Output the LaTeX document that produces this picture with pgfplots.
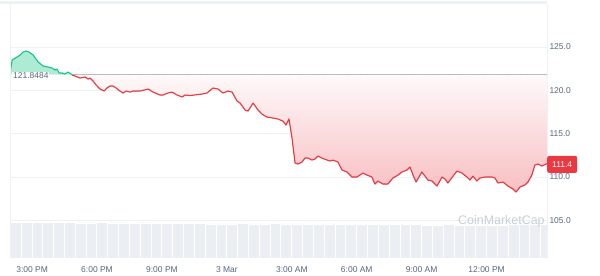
\documentclass[border=0pt]{standalone}
\usepackage{pgfplots}
\pgfplotsset{compat=1.18}
\usepackage{pgfplotstable}
\usepgfplotslibrary{fillbetween}
\usepackage{fontspec}
\setmainfont{Liberation Sans}

\definecolor{cmcred}{RGB}{234,57,67}
\definecolor{cmcgreen}{RGB}{22,199,132}
\definecolor{txtgray}{RGB}{88,102,126}
\definecolor{gridc}{RGB}{239,242,245}
\definecolor{volc}{RGB}{235,238,242}
\definecolor{wmark}{RGB}{200,206,214}
\definecolor{dotc}{RGB}{150,158,172}

\pgfplotstableread{
h p
-1.02 122.00
-0.92 123.50
-0.69 123.85
-0.55 124.08
-0.42 124.42
-0.28 124.54
-0.14 124.42
0.05 124.08
0.28 123.27
0.51 122.81
0.74 122.69
0.92 122.58
1.06 122.34
1.15 122.46
1.25 122.00
1.39 122.00
1.52 121.88
1.66 122.11
1.80 121.88
1.85 121.77
1.99 121.65
2.22 121.42
2.45 121.54
2.59 121.30
2.68 121.42
2.82 121.07
2.96 120.61
3.14 120.15
3.33 119.92
3.46 120.27
3.60 120.50
3.74 120.50
3.88 120.27
4.06 119.92
4.20 119.69
4.34 119.92
4.53 119.80
4.67 119.92
4.85 119.92
4.99 119.92
5.36 120.15
5.59 119.80
5.91 119.46
6.05 119.46
6.28 119.69
6.47 119.80
6.70 119.46
6.93 119.23
7.07 119.46
7.30 119.40
7.85 119.57
8.08 119.69
8.36 120.27
8.59 120.15
8.82 119.69
9.05 119.92
9.24 119.80
9.47 118.76
9.61 118.53
9.84 117.73
9.98 117.61
10.21 118.53
10.44 117.73
10.62 117.26
10.85 116.92
11.13 116.80
11.36 116.69
11.59 116.45
11.73 115.99
11.87 116.69
12.01 114.49
12.15 111.61
12.29 111.49
12.47 111.72
12.61 112.18
12.75 112.18
12.93 111.95
13.07 112.07
13.21 112.41
13.39 112.18
13.63 111.95
13.76 111.84
13.90 111.95
14.13 111.72
14.32 110.80
14.55 110.57
14.78 109.99
15.01 109.99
15.29 110.45
15.47 110.22
15.70 109.99
15.84 109.18
15.98 109.53
16.21 109.18
16.44 109.18
16.67 109.87
16.91 110.22
17.09 110.57
17.32 110.80
17.46 111.14
17.60 110.22
17.74 109.41
18.01 110.57
18.29 109.64
18.48 109.53
18.71 108.95
18.94 109.99
19.08 109.76
19.21 109.30
19.45 110.10
19.63 110.68
19.86 110.45
20.09 109.99
20.23 109.64
20.37 110.10
20.55 109.53
20.69 109.87
20.92 109.99
21.25 109.99
21.39 109.87
21.52 109.30
21.76 109.41
21.99 108.95
22.22 108.60
22.36 108.26
22.54 108.83
22.77 109.07
22.91 109.41
23.09 110.22
23.23 111.37
23.37 111.49
23.56 111.26
23.79 111.55
}\pricedata

\pgfplotstableread{
h v
-0.77 0.99
-0.27 1.00
0.23 0.99
0.73 0.99
1.23 1.00
1.73 0.99
2.23 0.98
2.73 0.98
3.23 0.99
3.73 0.98
4.23 0.98
4.73 0.97
5.23 0.98
5.73 0.97
6.23 0.97
6.73 0.96
7.23 0.96
7.73 0.96
8.23 0.95
8.73 0.95
9.23 0.95
9.73 0.96
10.23 0.95
10.73 0.95
11.23 0.96
11.73 0.95
12.23 0.95
12.73 0.94
13.23 0.94
13.73 0.95
14.23 0.94
14.73 0.94
15.23 0.93
15.73 0.93
16.23 0.94
16.73 0.93
17.23 0.93
17.73 0.93
18.23 0.92
18.73 0.92
19.23 0.93
19.73 0.92
20.23 0.92
20.73 0.92
21.23 0.92
21.73 0.92
22.23 0.93
22.73 0.93
23.23 0.93
23.73 0.93
}\voldata

\begin{document}
\begin{tikzpicture}
\fill[gridc] (0bp,272bp) rectangle (547bp,274.5bp);
% volume
\begin{axis}[at={(10bp,18bp)}, anchor=south west, scale only axis,
  width=537bp, height=254bp, xmin=-1.02, xmax=23.79, ymin=0, ymax=7.06,
  hide axis, ybar, bar width=0.5]
\addplot[fill=volc, draw=white, line width=0.2pt] table {\voldata};
\end{axis}
% price
\begin{axis}[at={(10bp,18bp)}, anchor=south west, scale only axis,
  width=537bp, height=254bp, xmin=-1.02, xmax=23.79, ymin=100.64, ymax=129.97,
  axis line style={draw=none}, tick style={draw=none},
  clip mode=individual,
  ytick={105,110,115,120,125}, yticklabel pos=right,
  /pgf/number format/assume math mode=true,
  yticklabel style={/pgf/number format/.cd, fixed, fixed zerofill, precision=1, /tikz/.cd,
     font=\fontsize{8.5}{10}\selectfont, text=txtgray, xshift=-1bp},
  ymajorgrids, grid style={gridc, line width=0.8pt},
  xtick={0,3,6,9,12,15,18,21},
  xticklabels={3:00 PM,6:00 PM,9:00 PM,3 Mar,3:00 AM,6:00 AM,9:00 AM,12:00 PM},
  xticklabel style={font=\fontsize{8.5}{10}\selectfont, text=txtgray, yshift=-5bp},
]
\addplot[name path=price, draw=none, forget plot] table {\pricedata};
\addplot[name path=base, draw=none, forget plot] coordinates {(-1.02,121.8484) (23.79,121.8484)};
\addplot[draw=none] fill between[of=price and base, split,
   every segment no 0/.style={fill=cmcgreen!35},
   every segment no 1/.style={top color=cmcred!3, bottom color=cmcred!32}];
\addplot[dotc, line width=0.55pt, line cap=round, dash pattern=on 0pt off 2.2pt] coordinates {(-1.02,121.8484) (23.79,121.8484)};
\addplot[cmcgreen, line width=1.15pt, line join=round, restrict x to domain=-2:1.85] table {\pricedata};
\addplot[cmcred, line width=1.15pt, line join=round, restrict x to domain=1.85:30] table {\pricedata};
\draw[gridc, line width=1pt] (rel axis cs:0,0) -- (rel axis cs:0,1);
\draw[gridc, line width=1pt] (rel axis cs:1,0) -- (rel axis cs:1,1);
\node[anchor=west, fill=white, inner sep=0.8pt, font=\fontsize{8.5}{10}\selectfont, text=txtgray, yshift=-1.5bp]
  at (axis cs:-0.92,121.8484) {121.8484};
\node[anchor=west, fill=cmcred, text=white, rounded corners=2pt, font=\fontsize{8.5}{10}\selectfont,
  minimum height=17bp, minimum width=30bp, inner xsep=3bp]
  at (axis cs:23.79,111.45) {111.4};
\node[anchor=west, text=wmark, font=\fontsize{12.5}{14}\selectfont] at (rel axis cs:0.828,0.146) {CoinMarketCap};
\end{axis}
\pgfresetboundingbox
\path[use as bounding box] (0,0) rectangle (600bp,276bp);
\end{tikzpicture}
\end{document}
